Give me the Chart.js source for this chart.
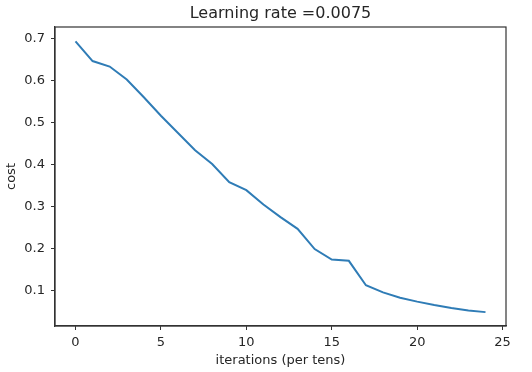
<!DOCTYPE html>
<html>
<head>
<meta charset="utf-8">
<script src="https://cdn.jsdelivr.net/npm/chart.js@4/dist/chart.umd.min.js"></script>
<style>
  html, body { margin: 0; padding: 0; background: #fff; }
</style>
</head>
<body>
<canvas id="cost-chart" width="532" height="372"></canvas>
<script>
// iterations (per tens) and cost values
const iterations = [0, 1, 2, 3, 4, 5, 6, 7, 8, 9, 10, 11, 12, 13, 14, 15, 16, 17, 18, 19, 20, 21, 22, 23, 24];
const costs = [0.693, 0.646, 0.633, 0.602, 0.560, 0.516, 0.475, 0.434, 0.401, 0.358, 0.339, 0.305, 0.275, 0.247, 0.199,
  0.174, 0.171, 0.113, 0.096, 0.083, 0.074, 0.066, 0.059, 0.053, 0.049];
const xTicks = [0, 5, 10, 15, 20, 25];
const yTicks = [0.1, 0.2, 0.3, 0.4, 0.5, 0.6, 0.7];

const points = iterations.map(function (it, i) {
  return { x: it, y: costs[i] };
});

const font = "'DejaVu Sans', sans-serif";
const ink = "#262626";
const frame = "#333333";

// matplotlib style box around the plot area
const framePlugin = {
  id: 'frame',
  afterDraw: function (chart) {
    const a = chart.chartArea;
    const ctx = chart.ctx;
    ctx.save();
    ctx.strokeStyle = frame;
    ctx.lineWidth = 1.2;
    ctx.strokeRect(a.left, a.top, a.right - a.left, a.bottom - a.top);
    ctx.restore();
  }
};

const config = {
  type: 'line',
  data: {
    datasets: [{
      data: points,
      borderColor: "#2f7cb6",
      borderWidth: 2,
      pointRadius: 0,
      tension: 0,
      fill: false
    }]
  },
  options: {
    responsive: false,
    animation: false,
    layout: { padding: { left: 0, right: 26, top: 0, bottom: 0 } },
    scales: {
      x: {
        type: 'linear',
        min: -1.2,
        max: 25.2,
        afterBuildTicks: function (scale) {
          scale.ticks = xTicks.map(function (v) { return { value: v }; });
        },
        afterFit: function (scale) { scale.height = 46; },
        grid: {
          drawOnChartArea: false,
          drawTicks: true,
          tickLength: 4,
          color: frame
        },
        border: { display: true, color: frame, width: 1.2 },
        ticks: {
          padding: 5,
          color: ink,
          font: { family: font, size: 13 },
          callback: function (v) { return String(v); }
        },
        title: {
          display: true,
          text: 'iterations (per tens)',
          color: ink,
          font: { family: font, size: 13 },
          padding: { top: 2, bottom: 4 }
        }
      },
      // top axis only carries the title so it is centred over the plot area
      top: {
        type: 'linear',
        position: 'top',
        afterFit: function (scale) { scale.height = 27; },
        grid: { display: false, drawTicks: false },
        border: { display: false },
        ticks: { display: false },
        title: {
          display: true,
          text: 'Learning rate =0.0075',
          color: ink,
          font: { family: font, size: 16 },
          padding: { top: 4, bottom: 4 }
        }
      },
      y: {
        type: 'linear',
        min: 0.016,
        max: 0.727,
        afterBuildTicks: function (scale) {
          scale.ticks = yTicks.map(function (v) { return { value: v }; });
        },
        afterFit: function (scale) { scale.width = 55; },
        grid: {
          drawOnChartArea: false,
          drawTicks: true,
          tickLength: 4,
          color: frame
        },
        border: { display: true, color: frame, width: 1.2 },
        ticks: {
          padding: 6,
          color: ink,
          font: { family: font, size: 13 },
          callback: function (v) { return v.toFixed(1); }
        },
        title: {
          display: true,
          text: 'cost',
          color: ink,
          font: { family: font, size: 13 },
          padding: { top: 4, bottom: 4 }
        }
      }
    },
    plugins: {
      legend: { display: false },
      tooltip: { enabled: false },
      title: { display: false }
    }
  },
  plugins: [framePlugin]
};

new Chart(document.getElementById("cost-chart"), config);
</script>
</body>
</html>
